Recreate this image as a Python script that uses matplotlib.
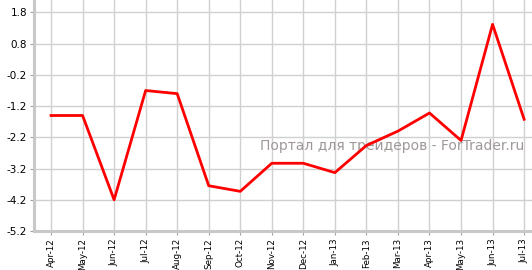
import matplotlib.pyplot as plt

# Данные
months = ['Apr-12', 'May-12', 'Jun-12', 'Jul-12', 'Aug-12', 'Sep-12', 'Oct-12', 'Nov-12',
          'Dec-12', 'Jan-13', 'Feb-13', 'Mar-13', 'Apr-13', 'May-13', 'Jun-13', 'Jul-13']
values = [-1.5, -1.5, -4.2, -0.7, -0.8, -3.75, -3.93, -3.03,
          -3.03, -3.33, -2.46, -2.0, -1.42, -2.3, 1.42, -1.62]
y_ticks = [1.8, 0.8, -0.2, -1.2, -2.2, -3.2, -4.2, -5.2]

fig = plt.figure(figsize=(5.32, 2.70), dpi=100)
ax = fig.add_axes([34/532, 39/270, 1 - 34/532, 1 - 39/270])

x = list(range(len(months)))
ax.plot(x, values, color='#ff0000', linewidth=2, zorder=3)

# Оси и сетка
ax.set_xlim(-0.54, 15.25)
ax.set_ylim(-5.2, 2.2)
ax.set_xticks(x)
ax.set_xticklabels(months, rotation=90, fontsize=6.3)
ax.set_yticks(y_ticks)
ax.set_yticklabels([f'{v:.1f}' for v in y_ticks], fontsize=7.5)
ax.grid(True, color='#d0d0d0', linewidth=1.0)

for s in ['top', 'right']:
    ax.spines[s].set_visible(False)
for s in ['left', 'bottom']:
    ax.spines[s].set_color('#c8c8c8')
    ax.spines[s].set_linewidth(2.2)
ax.tick_params(axis='both', length=3, color='#a0a0a0', pad=2)

# Водяной знак
ax.text(0.985, 0.37, 'Портал для трейдеров - ForTrader.ru', transform=ax.transAxes,
        ha='right', va='center', fontsize=10, color='#a09898', zorder=2)

fig.savefig('out.png', dpi=100)
